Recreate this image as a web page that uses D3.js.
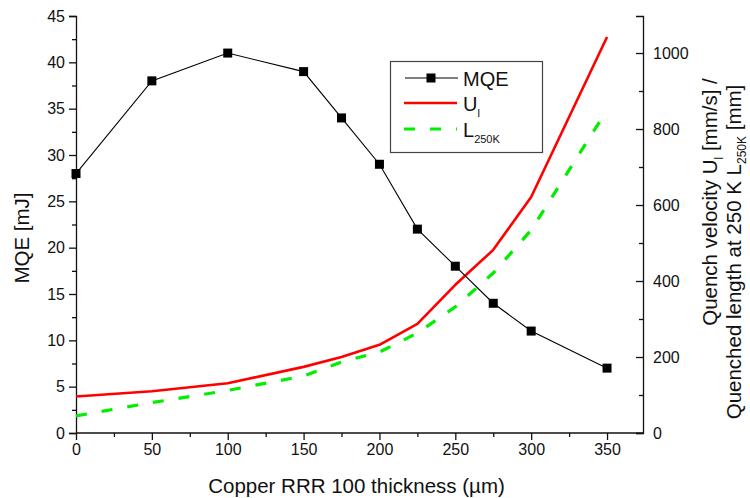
<!DOCTYPE html>
<html>
<head>
<meta charset="utf-8">
<script src="https://cdn.jsdelivr.net/npm/d3@7"></script>
<style>
  html, body { margin: 0; padding: 0; background: #fff; }
  svg { display: block; font-family: "Liberation Sans", Arial, sans-serif; }
</style>
</head>
<body>
<svg id="chart" width="750" height="498"></svg>
<script>
// Copper stabilizer thickness (µm)
const thickness = [0, 50, 100, 150, 175, 200, 225, 250, 275, 300, 350];
// Minimum quench energy (mJ)
const mqe = [28, 38, 41, 39, 34, 29, 22, 18, 14, 11, 7];
// Quench velocity U_l (mm/s)
const quenchVelocity = [96, 110, 131, 174, 200, 232, 287, 390, 482, 621, 1042];
// Quenched length at 250 K (mm)
const quenchedLength = [45, 80, 112, 150, 187, 213, 263, 332, 421, 534, 850];

const xTicks = [0, 50, 100, 150, 200, 250, 300, 350];
const leftTicks = [0, 5, 10, 15, 20, 25, 30, 35, 40, 45];
const rightTicks = [0, 200, 400, 600, 800, 1000];

const svg = d3.select("#chart");
const plot = { left: 76, right: 643, top: 16, bottom: 433 };

const x = d3.scaleLinear().domain([0, 373.7]).range([plot.left, plot.right]);
const yL = d3.scaleLinear().domain([0, 45]).range([plot.bottom, plot.top]);
const yR = d3.scaleLinear().domain([0, 1097.4]).range([plot.bottom, plot.top]);

const tickFont = 16;

// minor ticks
function minor(axisGen, values, g) {
  g.append("g").attr("class", "minor").call(axisGen.tickValues(values).tickSize(4).tickFormat(""))
    .call(s => s.select(".domain").remove());
}

// bottom axis
const gx = svg.append("g").attr("transform", `translate(0,${plot.bottom})`);
minor(d3.axisBottom(x), d3.range(25, 374, 50), gx);
gx.append("g").call(d3.axisBottom(x).tickValues(xTicks).tickSize(7).tickPadding(4).tickFormat(d3.format("d")))
  .call(s => s.select(".domain").attr("d", `M${plot.left},0H${plot.right}`));

// left axis
const gl = svg.append("g").attr("transform", `translate(${plot.left},0)`);
minor(d3.axisLeft(yL), d3.range(2.5, 45, 5), gl);
gl.append("g").call(d3.axisLeft(yL).tickValues(leftTicks).tickSize(7).tickPadding(4).tickFormat(d3.format("d")));

// right axis (ticks point inward, labels outside)
const gr = svg.append("g").attr("transform", `translate(${plot.right},0)`);
gr.append("g").attr("class", "minor")
  .call(d3.axisRight(yR).tickValues(d3.range(100, 1097, 200)).tickSize(-4).tickFormat(""))
  .call(s => s.select(".domain").remove());
gr.append("g").call(d3.axisRight(yR).tickValues(rightTicks).tickSize(-7).tickPadding(10).tickFormat(d3.format("d")));

svg.selectAll(".tick text").attr("font-size", tickFont).attr("fill", "#111")
  .attr("font-family", "Liberation Sans, Arial, sans-serif");
svg.selectAll(".domain, .tick line").attr("stroke", "#111").attr("stroke-width", 1.3);

// axis titles
svg.append("text").attr("x", (plot.left + plot.right) / 2 - 3).attr("y", 493)
  .attr("text-anchor", "middle").attr("font-size", 20.5).attr("fill", "#111")
  .text("Copper RRR 100 thickness (µm)");

svg.append("text").attr("transform", "translate(29,238) rotate(-90)")
  .attr("text-anchor", "middle").attr("font-size", 20.5).attr("fill", "#111")
  .text("MQE [mJ]");

const r1 = svg.append("text").attr("transform", "translate(717,202) rotate(-90)")
  .attr("text-anchor", "middle").attr("font-size", 20.5).attr("fill", "#111");
r1.append("tspan").text("Quench velocity U");
r1.append("tspan").attr("font-size", 12).attr("dy", 6).text("l");
r1.append("tspan").attr("dy", -6).text(" [mm/s] /");

const r2 = svg.append("text").attr("transform", "translate(741,252) rotate(-90)")
  .attr("text-anchor", "middle").attr("font-size", 20.5).attr("fill", "#111");
r2.append("tspan").text("Quenched length at 250 K L");
r2.append("tspan").attr("font-size", 12).attr("dy", 5).text("250K");
r2.append("tspan").attr("dy", -5).text(" [mm]");

// series
const pts = (ys, yScale) => thickness.map((t, i) => [x(t), yScale(ys[i])]);
const line = d3.line().curve(d3.curveLinear);

svg.append("path").attr("d", line(pts(quenchedLength, yR)))
  .attr("fill", "none").attr("stroke", "#00ee00").attr("stroke-width", 3.2)
  .attr("stroke-dasharray", "11,15");

svg.append("path").attr("d", line(pts(quenchVelocity, yR)))
  .attr("fill", "none").attr("stroke", "#ff0000").attr("stroke-width", 2.6)
  .attr("stroke-linejoin", "round");

svg.append("path").attr("d", line(pts(mqe, yL)))
  .attr("fill", "none").attr("stroke", "#000").attr("stroke-width", 1.1);

const sq = 9;
svg.append("g").selectAll("rect").data(thickness).join("rect")
  .attr("x", (d) => x(d) - sq / 2).attr("y", (d, i) => yL(mqe[i]) - sq / 2)
  .attr("width", sq).attr("height", sq).attr("fill", "#000");

// legend
const lg = svg.append("g");
lg.append("rect").attr("x", 390.5).attr("y", 61.5).attr("width", 152).attr("height", 91)
  .attr("fill", "#fff").attr("stroke", "#444").attr("stroke-width", 1.2);

lg.append("line").attr("x1", 405).attr("x2", 458).attr("y1", 78).attr("y2", 78)
  .attr("stroke", "#000").attr("stroke-width", 1.1);
lg.append("rect").attr("x", 431 - sq / 2).attr("y", 78 - sq / 2).attr("width", sq).attr("height", sq).attr("fill", "#000");
lg.append("text").attr("x", 463).attr("y", 86).attr("font-size", 20).attr("fill", "#111").text("MQE");

lg.append("line").attr("x1", 404).attr("x2", 457).attr("y1", 103).attr("y2", 103)
  .attr("stroke", "#ff0000").attr("stroke-width", 2.6);
const t2 = lg.append("text").attr("x", 463).attr("y", 111).attr("font-size", 20).attr("fill", "#111");
t2.append("tspan").text("U");
t2.append("tspan").attr("font-size", 11).attr("dy", 6).text("l");

lg.append("line").attr("x1", 404).attr("x2", 457).attr("y1", 129).attr("y2", 129)
  .attr("stroke", "#00ee00").attr("stroke-width", 3.2).attr("stroke-dasharray", "11,15");
const t3 = lg.append("text").attr("x", 463).attr("y", 137).attr("font-size", 20).attr("fill", "#111");
t3.append("tspan").text("L");
t3.append("tspan").attr("font-size", 11).attr("dy", 6).text("250K");
</script>
</body>
</html>
